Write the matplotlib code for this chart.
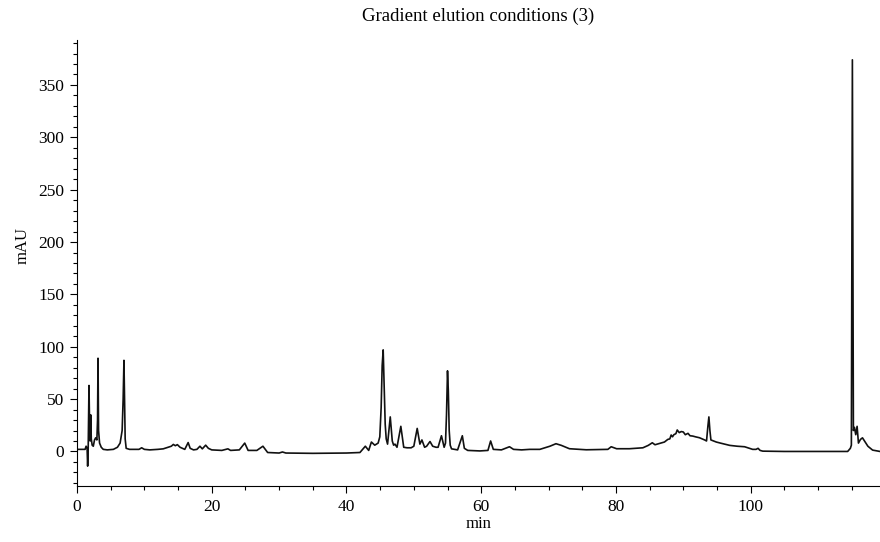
import matplotlib
matplotlib.use("Agg")
import matplotlib.pyplot as plt
from matplotlib.ticker import MultipleLocator

# chromatogram trace (min, mAU)
times = [
    0.0, 1.2, 1.35, 1.5, 1.58, 1.66, 1.78, 1.88, 1.95, 2.03, 2.12, 2.25, 2.42,
    2.6, 2.77, 2.95, 3.05, 3.12, 3.2, 3.35, 3.6, 3.9, 4.5, 5.4, 6.0, 6.4, 6.7,
    6.85, 6.97, 7.05, 7.15, 7.3, 7.8, 9.2, 9.6, 10.0, 10.8, 12.0, 12.8, 13.5,
    14.0, 14.3, 14.6, 14.9, 15.3, 16.0, 16.5, 16.8, 17.3, 17.8, 18.25, 18.6,
    19.1, 19.5, 20.0, 21.5, 22.4, 22.8, 24.1, 24.9, 25.4, 26.7, 27.6, 28.3,
    30.0, 30.5, 31.0, 35.0, 40.0, 42.0, 42.8, 43.3, 43.7, 44.2, 44.7, 44.95,
    45.15, 45.3, 45.45, 45.6, 45.75, 45.9, 46.1, 46.5, 46.8, 47.0, 47.2, 47.5,
    48.07, 48.5, 49.0, 49.6, 50.0, 50.5, 50.9, 51.2, 51.6, 51.9, 52.4, 52.8,
    53.3, 53.6, 54.1, 54.5, 54.7, 54.85, 55.0, 55.12, 55.25, 55.4, 55.6, 56.5,
    57.2, 57.5, 58.0, 59.8, 61.0, 61.4, 61.8, 63.0, 64.2, 64.8, 66.0, 67.2,
    68.7, 70.2, 71.1, 71.9, 73.1, 75.6, 78.8, 79.3, 80.1, 82.0, 84.0, 84.8,
    85.4, 85.8, 86.5, 87.2, 87.7, 88.0, 88.2, 88.4, 88.6, 88.9, 89.1, 89.4,
    89.7, 90.0, 90.3, 90.7, 91.0, 91.4, 91.8, 92.4, 92.8, 93.2, 93.45, 93.65,
    93.8, 93.95, 94.1, 94.9, 95.5, 96.9, 98.0, 99.1, 100.3, 100.8, 101.1,
    101.4, 101.8, 105.0, 110.0, 114.4, 114.8, 114.95, 115.1, 115.25, 115.4,
    115.6, 115.8, 116.0, 116.3, 116.6, 116.9, 117.4, 118.1, 119.2,
]
signal = [
    2, 2, 5, 3, -14, 2, 63, 20, 10, 35, 12, 6, 5,
    11, 13, 11, 30, 89, 20, 8, 4, 2, 1.5, 2, 4, 8, 20,
    50, 87, 55, 12, 3, 2, 2, 3.5, 2, 1.5, 2, 2.5, 4,
    5, 6.7, 5.5, 6.5, 4, 2, 8.5, 3, 1.5, 2, 5, 2.5,
    6, 3, 1.5, 1, 2.5, 1, 1.5, 8, 1, 1, 5, -1,
    -1.5, -0.5, -1.5, -1.8, -1.5, -1, 5, 1, 9, 6, 8, 14,
    42, 82, 97, 62, 26, 12, 7, 33, 10, 6, 7, 4,
    24, 4, 3.5, 3.5, 5, 22, 7, 11, 4, 5, 9.5, 5,
    4, 4, 15, 4, 8, 35, 77, 58, 20, 6, 2.5, 1.5,
    15, 3, 1, 0.5, 1, 10, 2, 1.5, 4.5, 2, 1.5, 2,
    2, 5, 7.4, 5.8, 2.6, 1.6, 2, 4.5, 2.6, 2.6, 3.5, 5.8,
    8.3, 6.4, 7.7, 9, 11.5, 12, 15.7, 14, 16, 17, 20.5, 18,
    19, 18.6, 16, 17.3, 15, 14.7, 14, 13.1, 12, 10.9, 10, 24,
    33, 20, 11, 9, 8, 5.8, 5, 4.5, 2, 2, 3,
    1, 0.3, 0, 0, 0, 3, 6, 374, 20, 23,
    16, 24, 8, 11.5, 13, 10, 5, 1.3, 0,
]

plt.rcParams["font.family"] = ["Liberation Serif", "DejaVu Serif"]
plt.rcParams["font.size"] = 12

fig = plt.figure(figsize=(8.8, 5.42), dpi=100)
ax = fig.add_axes([0.0875, 0.1033, 0.9125, 0.823])

ax.plot(times, signal, color="#111111", linewidth=1.2)

ax.set_xlim(0, 119.2)
ax.set_ylim(-33, 393)
ax.xaxis.set_major_locator(MultipleLocator(20))
ax.xaxis.set_minor_locator(MultipleLocator(5))
ax.yaxis.set_major_locator(MultipleLocator(50))
ax.yaxis.set_minor_locator(MultipleLocator(10))
ax.tick_params(which="major", length=5, width=0.8, direction="out",
               labelsize=12.5, pad=4)
ax.tick_params(which="minor", length=3, width=0.8, direction="out")

for side in ("top", "right"):
    ax.spines[side].set_visible(False)

ax.set_xlabel("min", fontsize=12, labelpad=1)
ax.set_ylabel("mAU", fontsize=12)
ax.yaxis.set_label_coords(-0.058, 0.54)
ax.set_title("Gradient elution conditions (3)", fontsize=13.5, pad=14)

fig.savefig("out.png", dpi=100)
